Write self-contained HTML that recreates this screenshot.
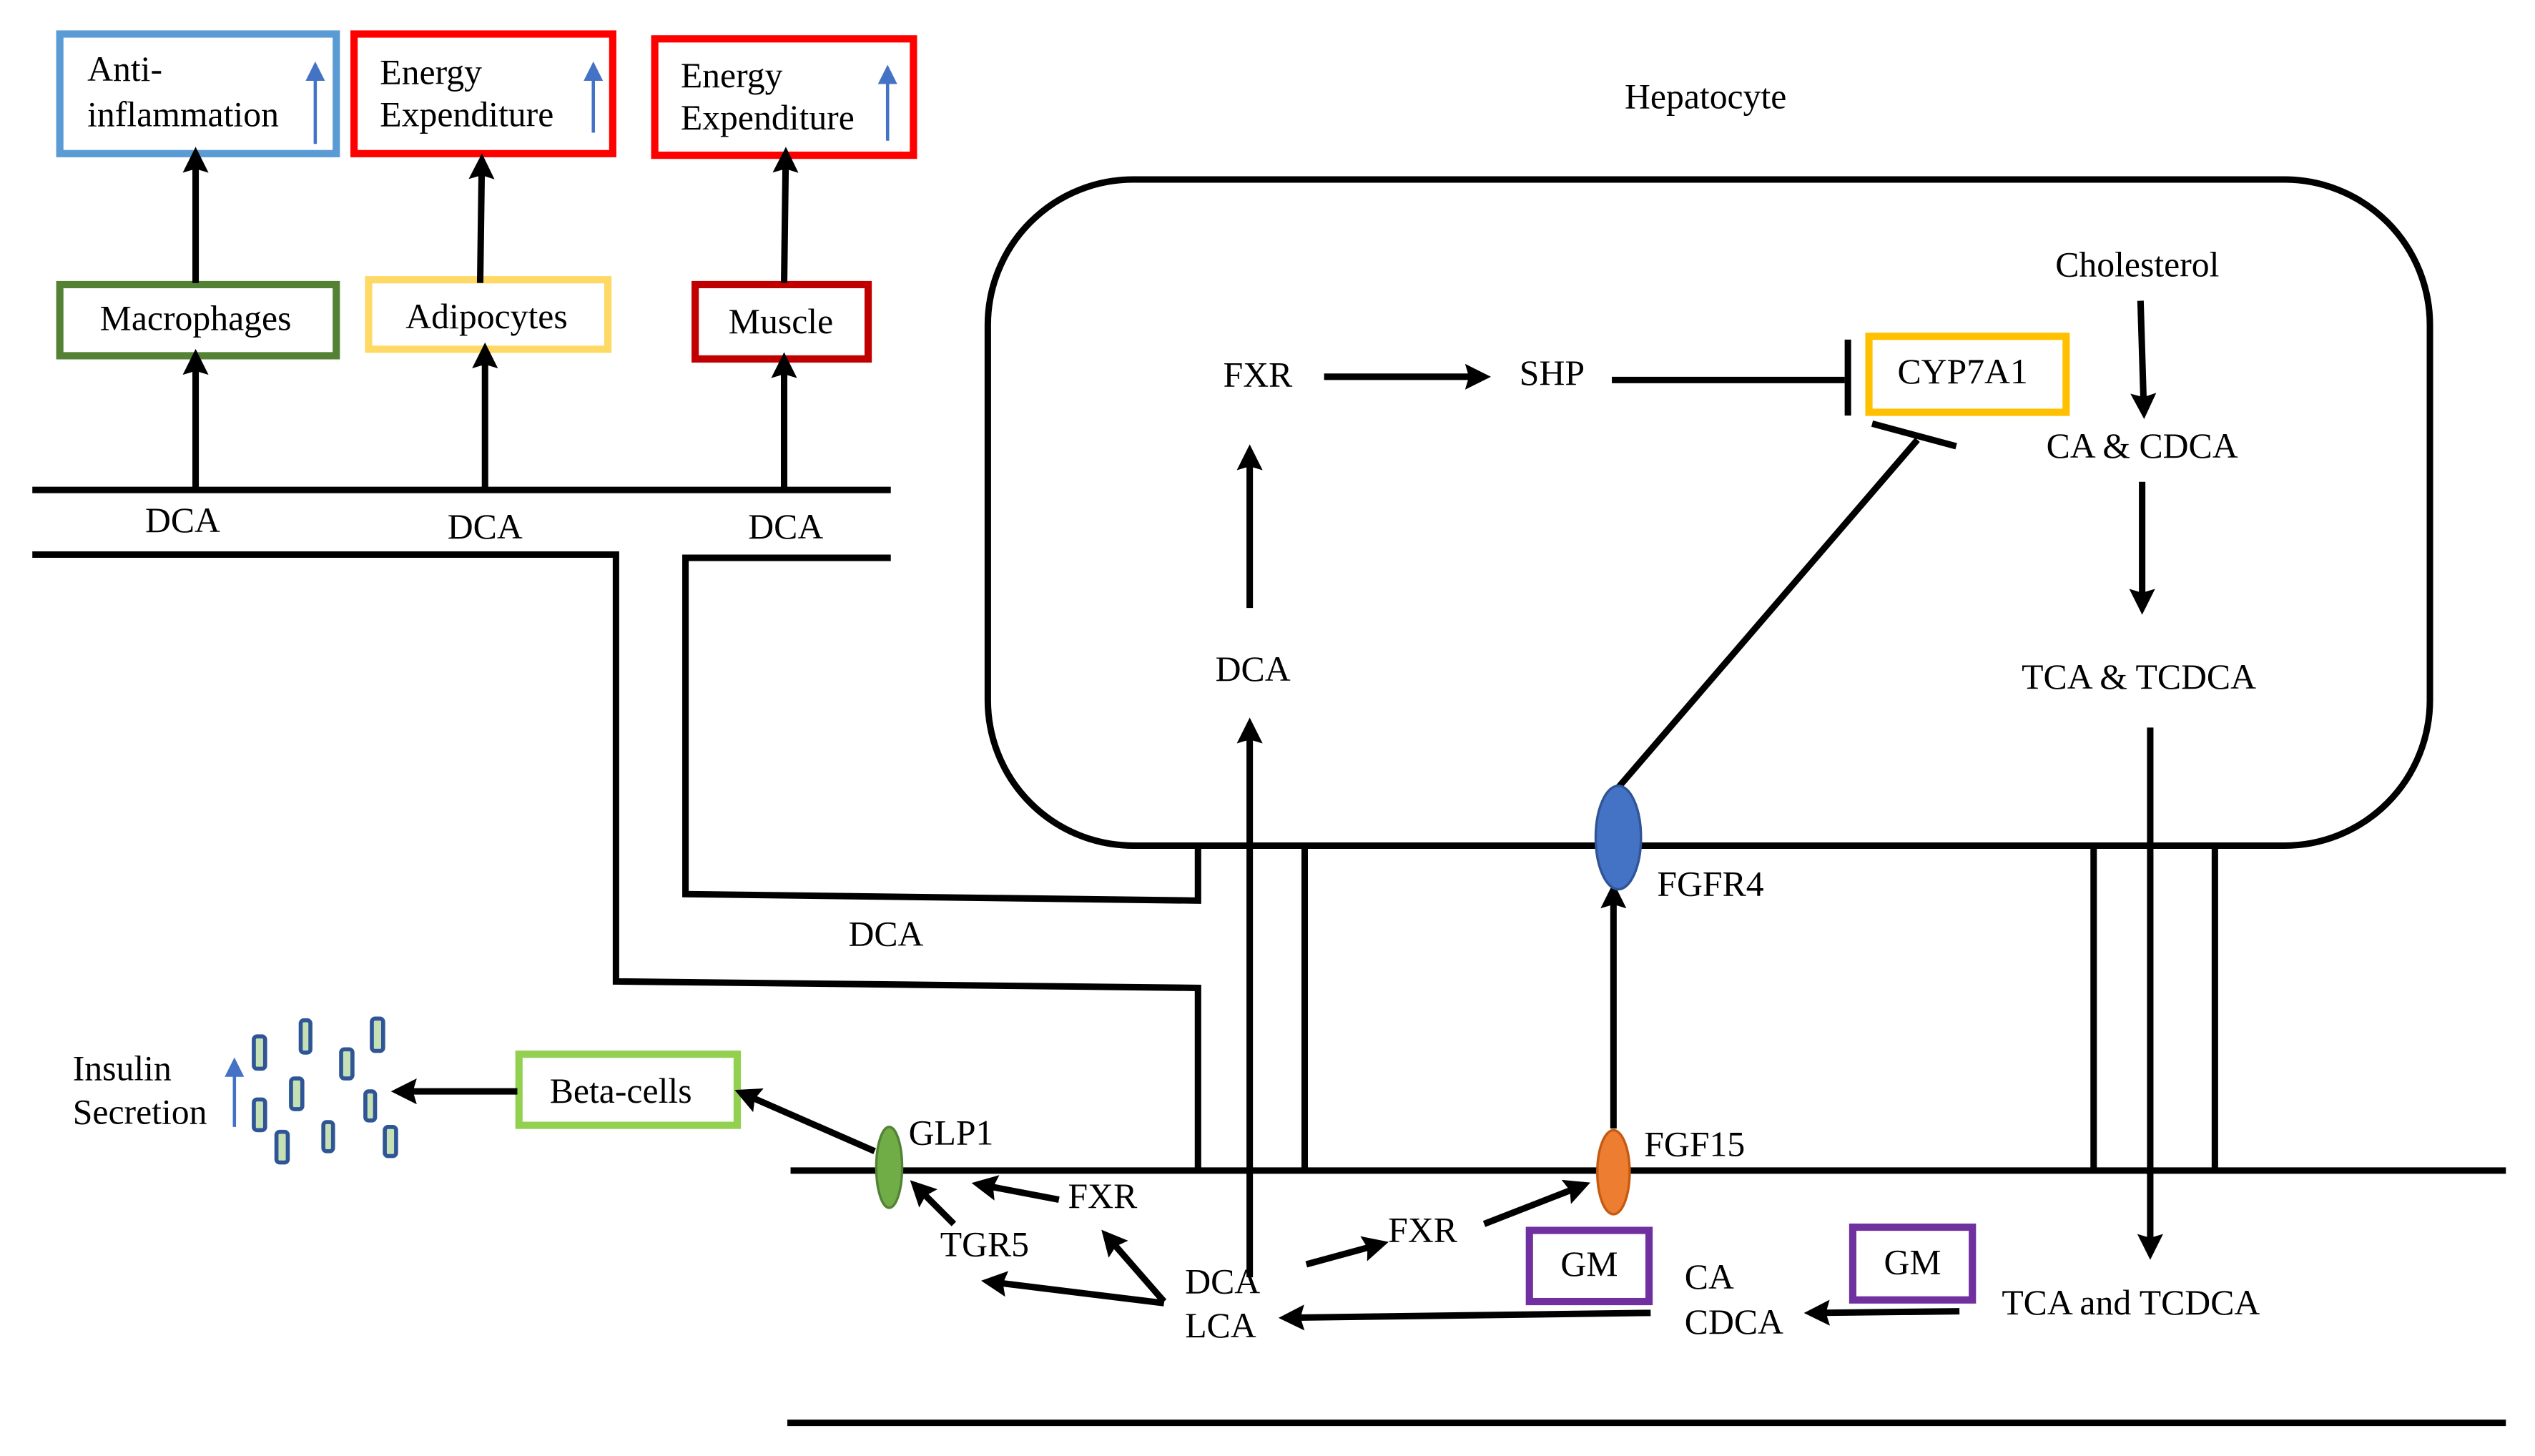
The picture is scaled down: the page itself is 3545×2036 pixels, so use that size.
<!DOCTYPE html>
<html><head><meta charset="utf-8"><style>
html,body{margin:0;padding:0;background:#fff}
svg{display:block}
text{font-family:"Liberation Serif",serif;font-size:22px;fill:#000}
</style></head><body>
<svg width="3545" height="2036" viewBox="0 0 1568 900.5" xmlns="http://www.w3.org/2000/svg">
<defs>
<marker id="a" markerWidth="4" markerHeight="4" refX="2.2" refY="2" orient="auto" markerUnits="strokeWidth">
<path d="M0,0 L4,2 L0,4 L0.6,2 Z" fill="#000"/></marker>
<marker id="b" markerWidth="6" markerHeight="6" refX="3" refY="3" orient="auto" markerUnits="strokeWidth">
<path d="M0,0 L6,3 L0,6 Z" fill="#4472c4"/></marker>
</defs>
<g fill="none" stroke-width="4.5">
<rect x="37" y="21" width="171" height="74" stroke="#5b9bd5"/>
<rect x="219" y="21" width="160" height="74" stroke="#ff0000"/>
<rect x="405" y="24" width="160" height="72" stroke="#ff0000"/>
<rect x="37" y="176" width="171" height="44" stroke="#548235"/>
<rect x="228" y="173" width="148" height="43" stroke="#ffd966"/>
<rect x="430" y="176" width="107" height="46" stroke="#c00000"/>
<rect x="1156" y="208" width="122" height="47" stroke="#ffc000"/>
<rect x="321" y="652" width="135" height="44" stroke="#92d050"/>
<rect x="946" y="761" width="74" height="44" stroke="#7030a0"/>
<rect x="1146" y="759" width="74" height="45" stroke="#7030a0"/>
</g>
<g stroke="#4472c4" stroke-width="2" fill="none">
<line x1="195" y1="89" x2="195" y2="44" marker-end="url(#b)"/>
<line x1="367" y1="82" x2="367" y2="44" marker-end="url(#b)"/>
<line x1="549" y1="87" x2="549" y2="46" marker-end="url(#b)"/>
<line x1="145" y1="697" x2="145" y2="660" marker-end="url(#b)"/>
</g>
<g stroke="#000" stroke-width="4" fill="none">
<rect x="611" y="111" width="892" height="412" rx="90"/>
<line x1="20" y1="303" x2="551" y2="303"/>
<polyline points="20,343 381,343 381,607 741,611 741,724"/>
<polyline points="551,345 424,345 424,553 741,557 741,523"/>
<line x1="807" y1="523" x2="807" y2="724"/>
<line x1="1295" y1="523" x2="1295" y2="724"/>
<line x1="1370" y1="523" x2="1370" y2="724"/>
<line x1="489" y1="724" x2="1550" y2="724"/>
<line x1="487" y1="880" x2="1550" y2="880"/>
<line x1="997" y1="235" x2="1141" y2="235"/>
<line x1="1143" y1="210" x2="1143" y2="257"/>
<line x1="1001" y1="487" x2="1186" y2="272"/>
<line x1="1158" y1="262" x2="1210" y2="276"/>
</g>
<g stroke="#000" stroke-width="4" fill="none" marker-end="url(#a)">
<line x1="121" y1="175" x2="121" y2="98"/>
<line x1="297" y1="175" x2="298" y2="102"/>
<line x1="485" y1="175" x2="486" y2="98"/>
<line x1="121" y1="303" x2="121" y2="223"/>
<line x1="300" y1="303" x2="300" y2="219"/>
<line x1="485" y1="303" x2="485" y2="225"/>
<line x1="819" y1="233" x2="915" y2="233"/>
<line x1="1324" y1="186" x2="1326" y2="252"/>
<line x1="1325" y1="298" x2="1325" y2="373"/>
<line x1="773" y1="376" x2="773" y2="282"/>
<line x1="773" y1="790" x2="773" y2="451"/>
<line x1="1330" y1="450" x2="1330" y2="772"/>
<line x1="998" y1="698" x2="998" y2="553"/>
<line x1="541" y1="712" x2="461" y2="677"/>
<line x1="320" y1="675" x2="249" y2="675"/>
<line x1="655" y1="742" x2="608" y2="733"/>
<line x1="590" y1="757" x2="568" y2="735"/>
<line x1="720" y1="805" x2="686" y2="766"/>
<line x1="720" y1="806" x2="614" y2="793"/>
<line x1="808" y1="782" x2="852" y2="770"/>
<line x1="918" y1="757" x2="977" y2="734"/>
<line x1="1021" y1="812" x2="798" y2="815"/>
<line x1="1212" y1="811" x2="1123" y2="812"/>
</g>
<ellipse cx="1001" cy="518" rx="14" ry="32" fill="#4472c4" stroke="#2f5597" stroke-width="1.5"/>
<ellipse cx="998" cy="725" rx="10" ry="26" fill="#ed7d31" stroke="#c55a11" stroke-width="1.5"/>
<ellipse cx="550" cy="722" rx="8" ry="25" fill="#70ad47" stroke="#548235" stroke-width="1.5"/>
<g fill="#c5e0b4" stroke="#2f5597" stroke-width="2.5">
<rect x="157" y="641" width="7" height="20" rx="2"/>
<rect x="186" y="631" width="6" height="20" rx="2"/>
<rect x="230" y="630" width="7" height="20" rx="2"/>
<rect x="211" y="649" width="7" height="18" rx="2"/>
<rect x="180" y="667" width="7" height="19" rx="2"/>
<rect x="157" y="680" width="7" height="19" rx="2"/>
<rect x="226" y="675" width="6" height="18" rx="2"/>
<rect x="171" y="700" width="7" height="19" rx="2"/>
<rect x="200" y="694" width="6" height="18" rx="2"/>
<rect x="238" y="697" width="7" height="18" rx="2"/>
</g>
<text x="54" y="50">Anti-</text>
<text x="54" y="78">inflammation</text>
<text x="235" y="52">Energy</text>
<text x="235" y="78">Expenditure</text>
<text x="421" y="54">Energy</text>
<text x="421" y="80">Expenditure</text>
<g text-anchor="middle">
<text x="121" y="204">Macrophages</text>
<text x="301" y="203">Adipocytes</text>
<text x="483" y="206">Muscle</text>
<text x="113" y="329">DCA</text>
<text x="300" y="333">DCA</text>
<text x="486" y="333">DCA</text>
<text x="1055" y="67">Hepatocyte</text>
<text x="778" y="239">FXR</text>
<text x="960" y="238">SHP</text>
<text x="1214" y="237">CYP7A1</text>
<text x="1322" y="171">Cholesterol</text>
<text x="1325" y="283">CA &amp; CDCA</text>
<text x="1323" y="426">TCA &amp; TCDCA</text>
<text x="775" y="421">DCA</text>
<text x="548" y="585">DCA</text>
<text x="384" y="682">Beta-cells</text>
<text x="983" y="789">GM</text>
<text x="1183" y="788">GM</text>
<text x="682" y="747">FXR</text>
<text x="609" y="777">TGR5</text>
<text x="880" y="768">FXR</text>
<text x="1318" y="813">TCA and TCDCA</text>
</g>
<text x="1025" y="554">FGFR4</text>
<text x="1017" y="715">FGF15</text>
<text x="562" y="708">GLP1</text>
<text x="45" y="668">Insulin</text>
<text x="45" y="695">Secretion</text>
<text x="733" y="800">DCA</text>
<text x="733" y="827">LCA</text>
<text x="1042" y="797">CA</text>
<text x="1042" y="825">CDCA</text>
</svg>
</body></html>
